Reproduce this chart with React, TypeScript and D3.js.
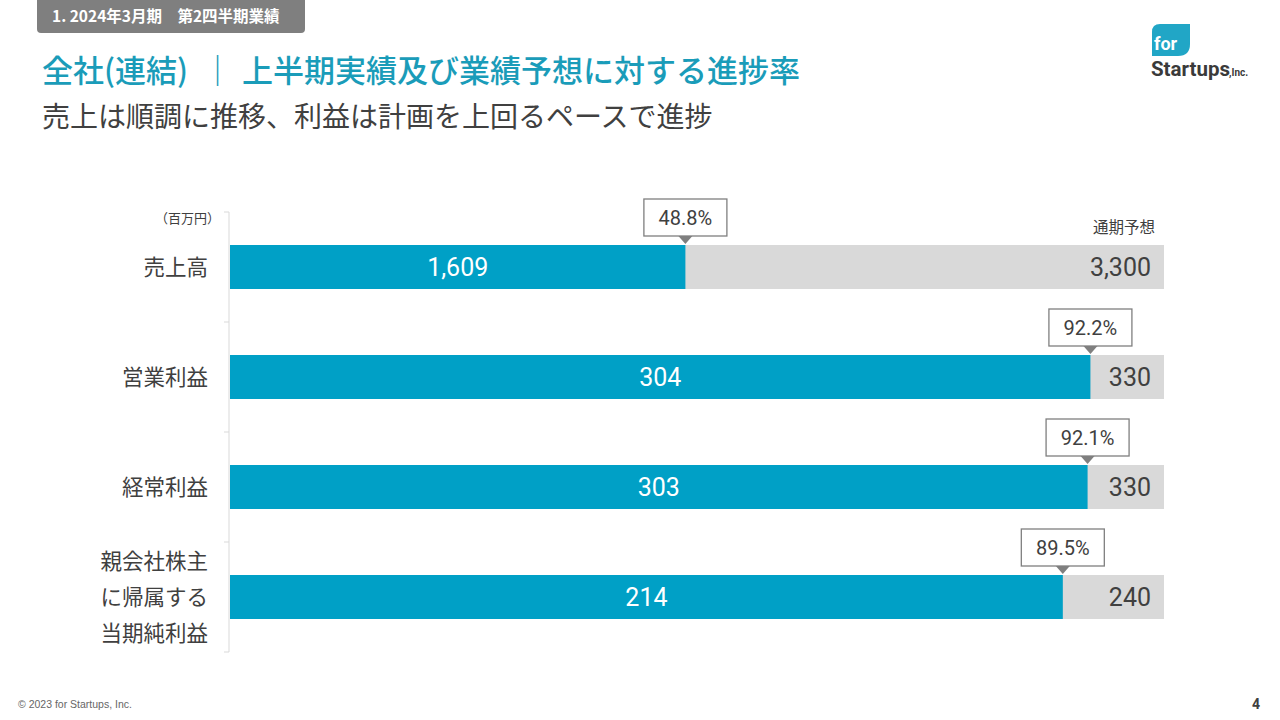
import React from "react";
import * as d3 from "d3";

const categories: string[][] = [["売上高"], ["営業利益"], ["経常利益"], ["親会社株主", "に帰属する", "当期純利益"]];
const actuals = [1609, 304, 303, 214];
const forecasts = [3300, 330, 330, 240];
const progress = [48.8, 92.2, 92.1, 89.5];

const BLUE = "#00a0c6";
const GRAY = "#d9d9d9";
const TEXT = "#404040";
const TEAL = "#1a9cb9";
const FONT = "Roboto, 'Noto Sans CJK JP', sans-serif";
const JP = "'Noto Sans CJK JP', sans-serif";

export default function App() {
  const W = 1280, H = 720;
  const x = d3.scaleLinear().domain([0, 1]).range([230, 1164]);
  const y = d3.scaleBand<number>().domain(d3.range(categories.length)).range([212, 652]).padding(0);
  const barH = 44;
  const fmt = d3.format(",");
  const ticks = d3.range(categories.length + 1).map((i) => 212 + i * y.step());

  return (
    <svg width={W} height={H} viewBox={`0 0 ${W} ${H}`} style={{ position: "absolute", left: 0, top: 0, background: "#fff" }}>
      {/* header tab */}
      <path d="M37,0 H305 V29 Q305,33 301,33 H41 Q37,33 37,29 Z" fill="#7f7f7f" />
      <text x={52} y={22} fill="#fff" fontFamily={JP} fontWeight={700} fontSize={15.5}>1. 2024年3月期　第2四半期業績</text>
      <text y={82} fill={TEAL} fontFamily={JP} fontWeight={500} fontSize={31}>
        <tspan x={42}>全社(連結)</tspan>
        <tspan x={202}>｜</tspan>
        <tspan x={242}>上半期実績及び業績予想に対する進捗率</tspan>
      </text>
      <text x={42} y={127} fill={TEXT} fontFamily={JP} fontSize={28}>売上は順調に推移、利益は計画を上回るペースで進捗</text>

      {/* logo */}
      <path d="M1152,56 V32 Q1152,24 1160,24 H1190 V44 Q1190,56 1178,56 Z" fill="#21a6c6" />
      <text x={1154} y={50} fill="#fff" fontFamily="Roboto, sans-serif" fontWeight={700} fontSize={18}>for</text>
      <text x={1151} y={76} fill="#3a3a3a" fontFamily="Roboto, sans-serif" fontWeight={700} fontSize={20.5}>Startups</text>
      <text x={1229} y={76} fill="#3a3a3a" fontFamily="Roboto, sans-serif" fontWeight={700} fontSize={10}>,Inc.</text>

      {/* axis */}
      <line x1={229} x2={229} y1={212} y2={652} stroke="#d9d9d9" strokeWidth={1} />
      {ticks.map((t, i) => (
        <line key={i} x1={224} x2={229} y1={t} y2={t} stroke="#d9d9d9" strokeWidth={1} />
      ))}
      <text x={220} y={223} textAnchor="end" fill={TEXT} fontFamily={JP} fontSize={13}>（百万円）</text>
      <text x={1155} y={233} textAnchor="end" fill={TEXT} fontFamily={JP} fontSize={15.5}>通期予想</text>

      {categories.map((lines, i) => {
        const cy = (y(i) as number) + y.bandwidth() / 2;
        const top = cy - barH / 2;
        const xe = x(actuals[i] / forecasts[i]);
        const lh = 36;
        return (
          <g key={i}>
            <rect x={x(0)} y={top} width={x(1) - x(0)} height={barH} fill={GRAY} />
            <rect x={x(0)} y={top} width={xe - x(0)} height={barH} fill={BLUE} />
            <text x={(x(0) + xe) / 2} y={cy + 9} textAnchor="middle" fill="#fff" fontFamily={FONT} fontSize={25}>{fmt(actuals[i])}</text>
            <text x={1151} y={cy + 9} textAnchor="end" fill={TEXT} fontFamily={FONT} fontSize={25}>{fmt(forecasts[i])}</text>
            {lines.map((l, j) => (
              <text key={j} x={208} y={cy + 7.5 + (j - (lines.length - 1) / 2) * lh} textAnchor="end" fill={TEXT} fontFamily={JP} fontSize={21.5}>{l}</text>
            ))}
            <g>
              <rect x={xe - 41.5} y={top - 46} width={83} height={37} fill="#fff" stroke="#7f7f7f" strokeWidth={1.3} />
              <path d={`M${xe - 7},${top - 9} L${xe + 7},${top - 9} L${xe},${top - 1} Z`} fill="#7f7f7f" />
              <text x={xe} y={top - 20} textAnchor="middle" fill={TEXT} fontFamily={FONT} fontSize={20}>{progress[i].toFixed(1)}%</text>
            </g>
          </g>
        );
      })}

      <text x={18} y={708} fill="#666" fontFamily="'Liberation Sans', Arial, sans-serif" fontSize={10.5}>© 2023 for Startups, Inc.</text>
      <text x={1252} y={709} fill={TEXT} fontFamily="Roboto, sans-serif" fontWeight={700} fontSize={14}>4</text>
    </svg>
  );
}
